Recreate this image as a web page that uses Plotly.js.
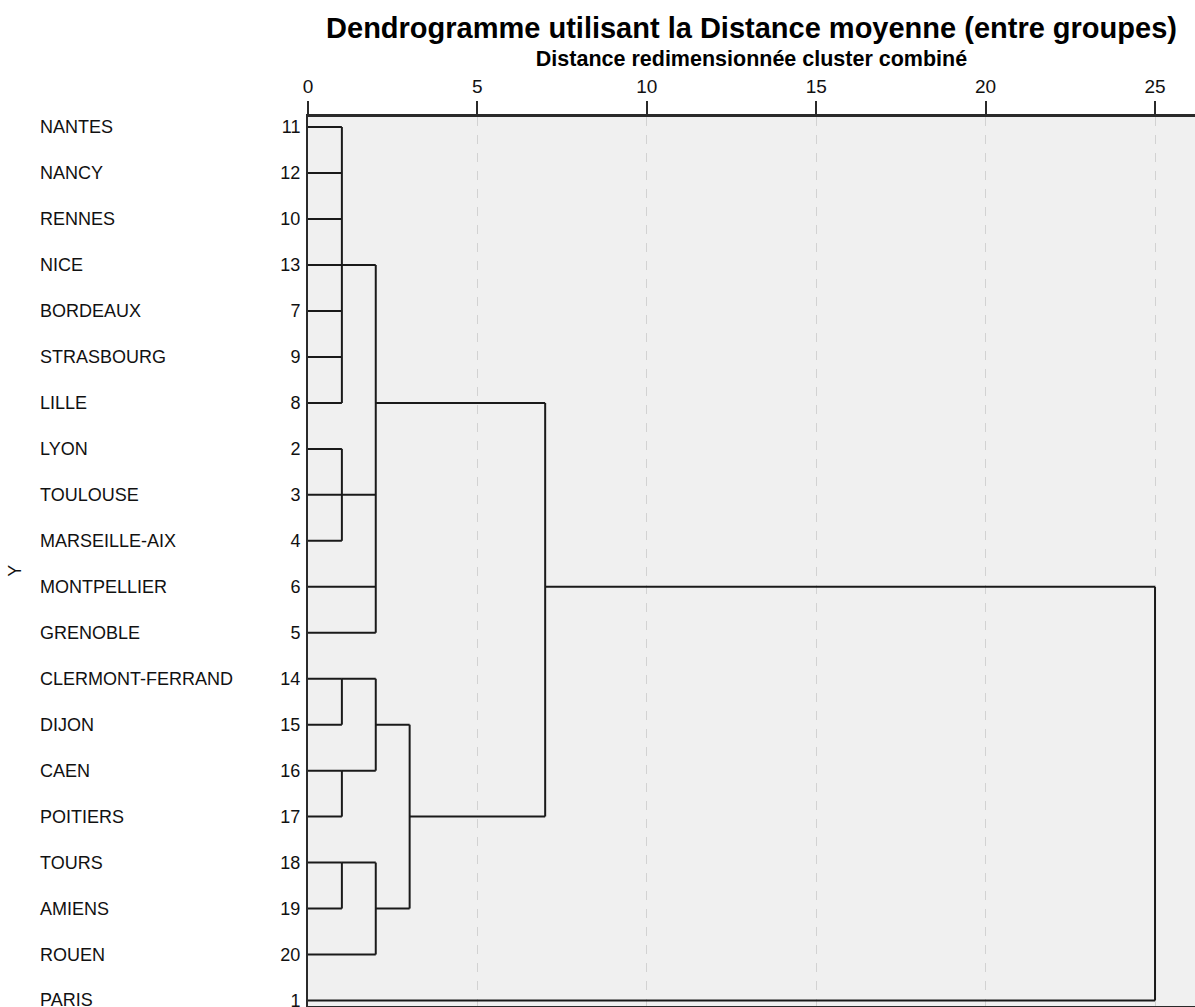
<!DOCTYPE html>
<html>
<head>
<meta charset="utf-8">
<script src="https://cdn.plot.ly/plotly-3.0.1.min.js"></script>
<style>html,body{margin:0;padding:0;background:#fff;}#chart{width:1195px;height:1007px;}</style>
</head>
<body>
<div id="chart"></div>
<script>
// Leaves, top to bottom
const cityNames = ["NANTES","NANCY","RENNES","NICE","BORDEAUX","STRASBOURG","LILLE","LYON","TOULOUSE","MARSEILLE-AIX","MONTPELLIER","GRENOBLE","CLERMONT-FERRAND","DIJON","CAEN","POITIERS","TOURS","AMIENS","ROUEN","PARIS"];
const caseIds = ["11","12","10","13","7","9","8","2","3","4","6","5","14","15","16","17","18","19","20","1"];
// Merges (SPSS rescaled distance), children: L = leaf row, C = earlier merge
const mergeChildren = [
  ["L0","L1","L2","L3","L4","L5","L6"],
  ["L7","L8","L9"],
  ["L12","L13"],
  ["L14","L15"],
  ["L16","L17"],
  ["C0","C1","L10","L11"],
  ["C2","C3"],
  ["C4","L18"],
  ["C6","C7"],
  ["C5","C8"],
  ["C9","L19"]
];
const mergeDistance = [1,1,1,1,1,2,2,2,3,7,25];
const mergeExitRow = [3,8,12,14,16,6,13,17,15,10,null];
const xTicks = [0,5,10,15,20,25];

const xs = [], ys = [];
function node(ref){
  const k = ref[0], i = parseInt(ref.slice(1));
  if(k === "L") return {d:0, row:i};
  return {d:mergeDistance[i], row:mergeExitRow[i]};
}
mergeChildren.forEach((ch, m) => {
  const d = mergeDistance[m];
  const rows = [];
  ch.forEach(ref => {
    const n = node(ref);
    rows.push(n.row);
    xs.push(n.d, d, null); ys.push(n.row, n.row, null);
  });
  xs.push(d, d, null); ys.push(Math.min(...rows), Math.max(...rows), null);
});

const rowIdx = cityNames.map((_, i) => i);
const font = "Arial, 'Liberation Sans', sans-serif";

const annotations = cityNames.map((c, i) => ({
  xref: "paper", yref: "y", x: -0.304, y: i, text: c, showarrow: false,
  xanchor: "left", yanchor: "middle", font: {family: font, size: 18, color: "#111"}
}));
annotations.push({xref:"paper", yref:"paper", x:-0.33, y:0.49, text:"Y", textangle:-90,
  showarrow:false, xanchor:"center", yanchor:"middle", font:{family:font, size:18, color:"#111"}});

const trace = {x: xs, y: ys, type: "scatter", mode: "lines",
  line: {color: "#1a1a1a", width: 2}, hoverinfo: "skip", showlegend: false, cliponaxis: false};

const layout = {
  width: 1195, height: 1007,
  margin: {l: 308, r: 0, t: 117, b: 1},
  paper_bgcolor: "#ffffff", plot_bgcolor: "#f0f0f0",
  title: {text: "<b>Dendrogramme utilisant la Distance moyenne (entre groupes)</b>", xref: "paper", x: 0.5, xanchor: "center",
    yref: "container", y: 0.972, yanchor: "middle", font: {family: font, size: 29, color: "#000"}},
  xaxis: {side: "top", range: [0, 26.18], tickvals: xTicks, ticktext: xTicks.map(String),
    showgrid: true, gridcolor: "#d2d2d2", griddash: "dash", gridwidth: 1,
    zeroline: false, showline: true, linecolor: "#2a2a2a", linewidth: 3, mirror: true,
    ticks: "outside", ticklen: 13, tickwidth: 2, tickcolor: "#2a2a2a",
    tickfont: {family: font, size: 19, color: "#111"},
    title: {text: "<b>Distance redimensionnée cluster combiné</b>", font: {family: font, size: 21.5, color: "#000"}, standoff: 4}},
  yaxis: {range: [19.12, -0.22], tickvals: rowIdx, ticktext: caseIds, showgrid: false, zeroline: false,
    showline: true, linecolor: "#2a2a2a", linewidth: 2, ticks: "", ticklabelstandoff: 2, ticklabeloverflow: "allow",
    tickfont: {family: font, size: 18, color: "#111"}},
  annotations: annotations
};
Plotly.newPlot("chart", [trace], layout, {displayModeBar: false, staticPlot: true});
</script>
</body>
</html>
